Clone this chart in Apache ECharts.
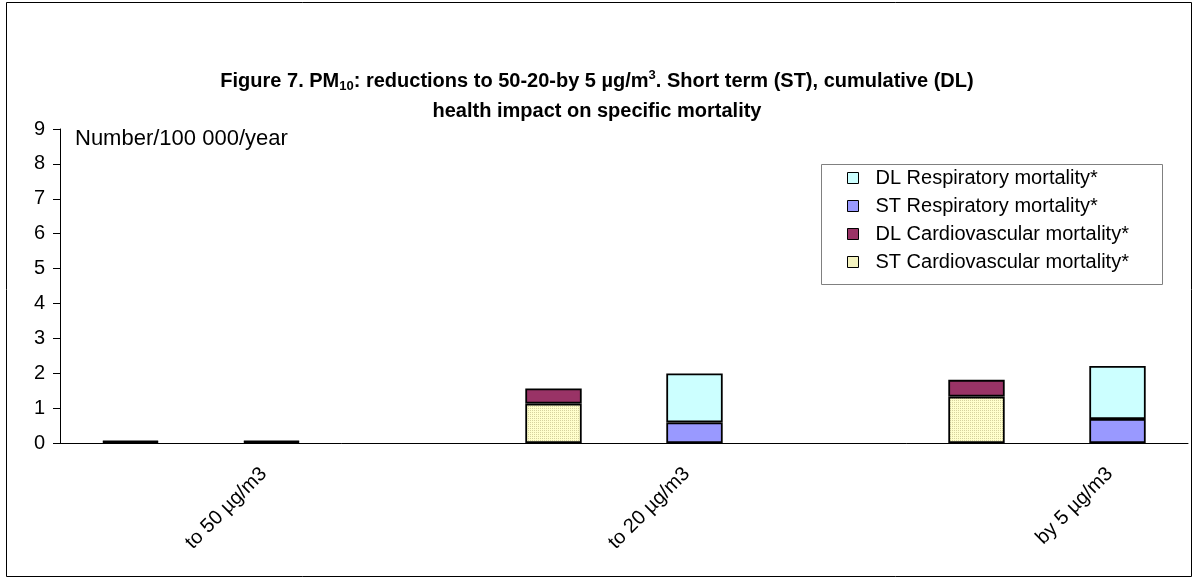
<!DOCTYPE html>
<html>
<head>
<meta charset="utf-8">
<script src="https://cdn.jsdelivr.net/npm/echarts@6/dist/echarts.min.js"></script>
<style>
  html, body { margin: 0; padding: 0; background: #fff; }
  #chart { width: 1194px; height: 579px; }
</style>
</head>
<body>
<div id="chart"></div>
<script>
// Eight category slots: each scenario uses two slots (cardiovascular, respiratory) plus a spacer.
const categories = ['', 'to 50 µg/m3', '', '', 'to 20 µg/m3', '', '', 'by 5 µg/m3'];

// Number/100 000/year per slot (null where the stack is not drawn)
const stCardio = [0.03, null, null, 1.13, null, null, 1.33, null];
const dlCardio = [0.03, null, null, 0.43, null, null, 0.48, null];
const stResp   = [null, 0.03, null, null, 0.59, null, null, 0.69];
const dlResp   = [null, 0.03, null, null, 1.40, null, null, 1.52];

const yTicks = [0, 1, 2, 3, 4, 5, 6, 7, 8, 9];

const seriesNames = {
  stCardio: 'ST Cardiovascular mortality*',
  dlCardio: 'DL Cardiovascular mortality*',
  stResp: 'ST Respiratory mortality*',
  dlResp: 'DL Respiratory mortality*'
};

// Stippled pale-yellow fill for the short-term cardiovascular bars
function stipple() {
  const c = document.createElement('canvas');
  c.width = 4; c.height = 4;
  const g = c.getContext('2d');
  g.fillStyle = '#FFFFCC';
  g.fillRect(0, 0, 4, 4);
  g.fillStyle = '#D6D29E';
  g.fillRect(0, 0, 1, 1);
  g.fillRect(2, 2, 1, 1);
  g.fillRect(0, 2, 1, 1);
  g.fillRect(2, 0, 1, 1);
  return c;
}

const FONT = 'Liberation Sans, Arial, sans-serif';
const chart = echarts.init(document.getElementById('chart'), null, { renderer: 'canvas' });

function barSeries(name, data, color) {
  return {
    name: name,
    type: 'bar',
    stack: 'total',
    data: data,
    barWidth: '40%',
    itemStyle: { color: color, borderColor: '#000', borderWidth: 1.8 },
    emphasis: { disabled: true },
    animation: false
  };
}

chart.setOption({
  backgroundColor: '#fff',
  animation: false,
  title: {
    left: 'center',
    top: 61,
    text: '{b|Figure 7. PM}{sub|10}{b|: reductions to 50-20-by 5 µg/m}{sup|3}{b|. Short term (ST), cumulative (DL)}\n{b|health impact on specific mortality}',
    textStyle: {
      rich: {
        b: { fontFamily: FONT, fontWeight: 'bold', fontSize: 20, color: '#000', lineHeight: 30 },
        sub: { fontFamily: FONT, fontWeight: 'bold', fontSize: 13, color: '#000', lineHeight: 13, padding: [10, 0, 0, 0] },
        sup: { fontFamily: FONT, fontWeight: 'bold', fontSize: 13, color: '#000', lineHeight: 13, padding: [0, 0, 11, 0] }
      }
    }
  },
  grid: { left: 60, right: 6, top: 129, bottom: 136, containLabel: false },
  legend: {
    orient: 'vertical',
    left: 847,
    top: 168,
    padding: 0,
    itemGap: 8,
    itemWidth: 11,
    itemHeight: 11,
    icon: 'rect',
    selectedMode: false,
    data: [seriesNames.dlResp, seriesNames.stResp, seriesNames.dlCardio, seriesNames.stCardio],
    itemStyle: { borderColor: '#000', borderWidth: 1 },
    textStyle: { fontFamily: FONT, fontSize: 20, color: '#000', lineHeight: 20, padding: [0, 0, 0, 12] }
  },
  xAxis: {
    type: 'category',
    data: categories,
    axisLine: { lineStyle: { color: '#000', width: 1 } },
    axisTick: { show: false },
    axisLabel: { rotate: 45, margin: 20, padding: [0, 11, 0, 0], interval: 0, fontFamily: FONT, fontSize: 20, color: '#000' },
    splitLine: { show: false }
  },
  yAxis: {
    type: 'value',
    min: yTicks[0],
    max: yTicks[yTicks.length - 1],
    interval: 1,
    axisLine: { show: true, lineStyle: { color: '#000', width: 1 } },
    axisTick: { show: true, inside: false, length: 7, lineStyle: { color: '#000' } },
    axisLabel: { margin: 15, fontFamily: FONT, fontSize: 20, color: '#000' },
    splitLine: { show: false }
  },
  graphic: [
    { type: 'rect', shape: { x: 6.5, y: 2.5, width: 1185, height: 574 }, style: { fill: 'none', stroke: '#000', lineWidth: 1 }, silent: true },
    { type: 'rect', shape: { x: 821.5, y: 164.5, width: 341, height: 120 }, style: { fill: '#fff', stroke: '#808080', lineWidth: 1 }, silent: true, z: 1 },
    { type: 'text', left: 75, top: 128, style: { text: 'Number/100 000/year', font: '22px ' + FONT, fill: '#000' }, silent: true }
  ],
  series: [
    barSeries(seriesNames.stCardio, stCardio, { image: stipple(), repeat: 'repeat' }),
    barSeries(seriesNames.dlCardio, dlCardio, '#993366'),
    barSeries(seriesNames.stResp, stResp, '#9999FF'),
    barSeries(seriesNames.dlResp, dlResp, '#CCFFFF')
  ]
});
</script>
</body>
</html>
